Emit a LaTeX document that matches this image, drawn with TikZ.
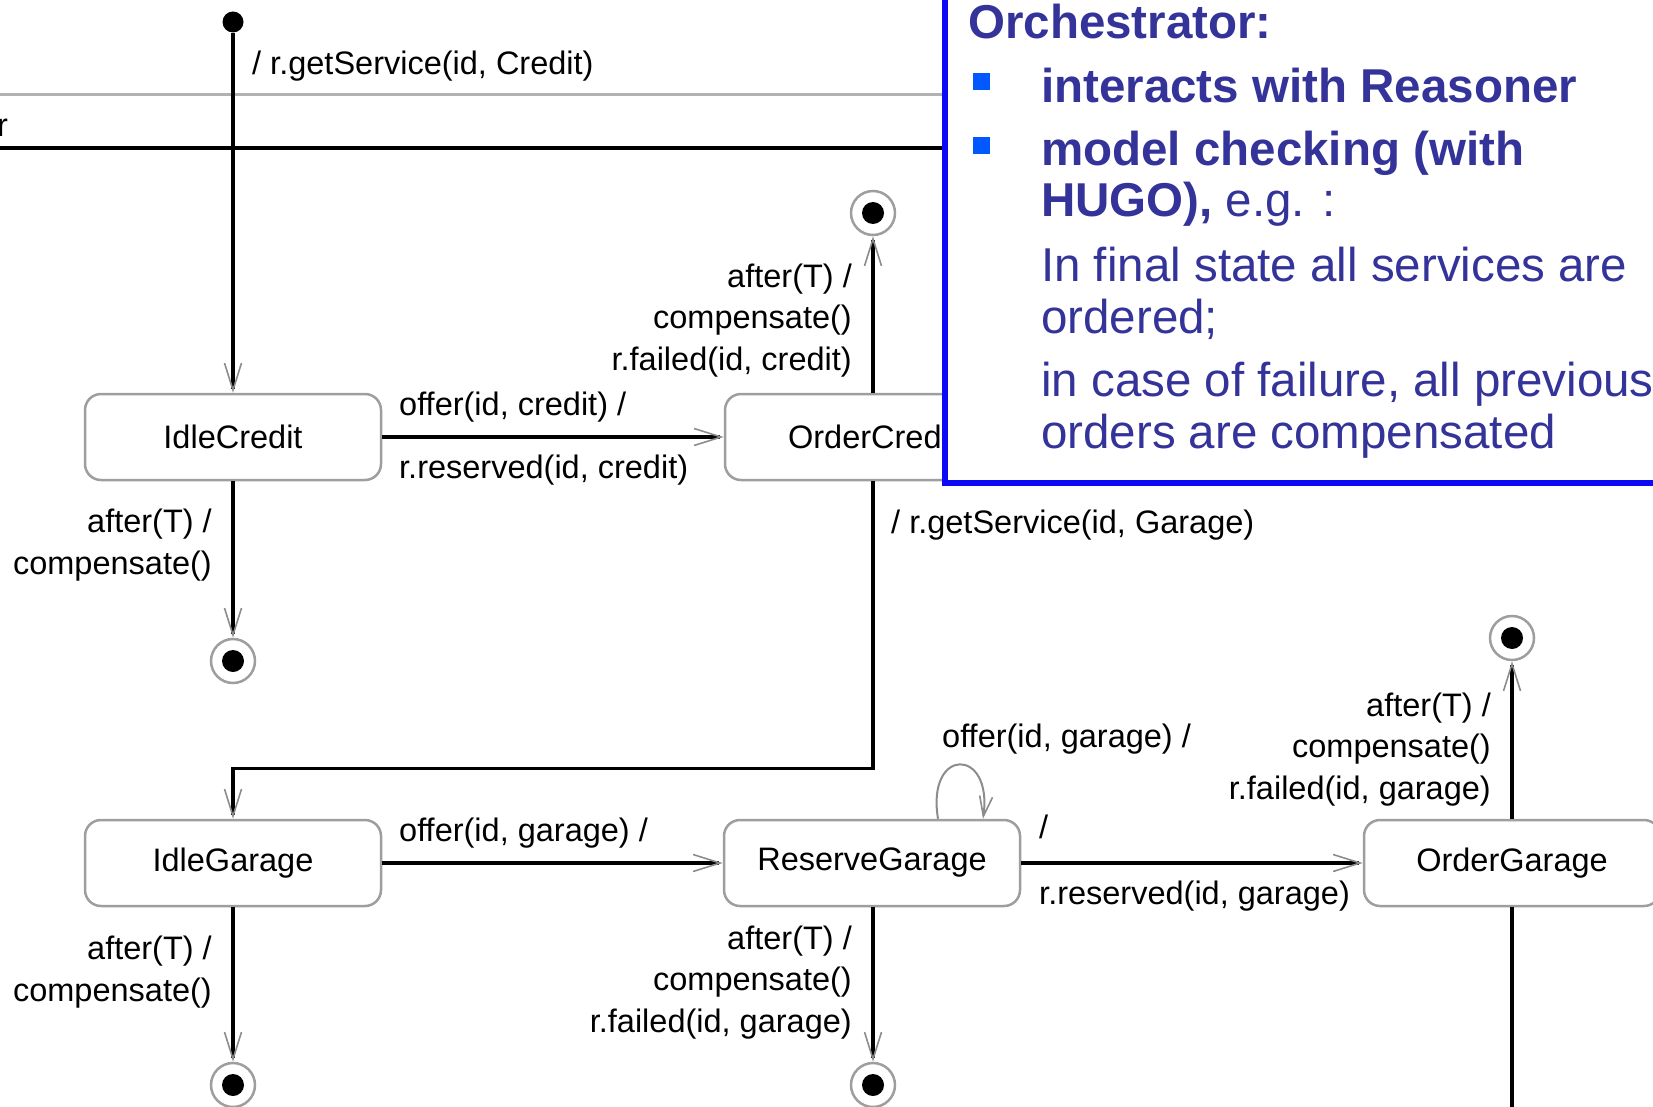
\documentclass[tikz,border=0pt]{standalone}
\usepackage{fontspec}
\setmainfont{Liberation Sans}
\usetikzlibrary{arrows.meta,calc}

\definecolor{stateedge}{gray}{0.62}
\definecolor{barb}{gray}{0.55}
\definecolor{sepgray}{gray}{0.70}
\definecolor{noteblue}{rgb}{0.04,0.04,0.96}
\definecolor{notetext}{rgb}{0.2,0.2,0.6}
\definecolor{bulletblue}{rgb}{0,0.35,1}

\newcommand\dfont{\fontsize{32.5pt}{41.5pt}\selectfont}
\newcommand\nfont{\fontsize{47.5pt}{51.5pt}\selectfont}

\begin{document}
\begin{tikzpicture}[x=1pt,y=-1pt,
  stbox/.style={draw=stateedge,line width=2.5pt,rounded corners=16pt,
    minimum width=296pt,minimum height=86pt,inner sep=0pt,font=\dfont,fill=white},
  initdot/.style={circle,fill=black,minimum size=21pt,inner sep=0pt},
  finalst/.style={circle,draw=stateedge,line width=2.5pt,minimum size=44pt,inner sep=0pt,
    path picture={\fill[black] (path picture bounding box.center) circle (11pt);}},
  conn/.style={line width=3.5pt,black},
  arr/.style={conn,-{Straight Barb[length=27pt,width=17pt,line width=1.6pt,color=barb]}},
  selfloop/.style={line width=2pt,draw=barb,-{Straight Barb[length=20pt,width=13pt,line width=1.6pt,color=barb]}},
  lbl/.style={font=\dfont,inner sep=0pt,text=black},
  lblL/.style={lbl,anchor=base west},
  % multi-line labels: the base anchor sits on the last line
  lblR/.style={lbl,anchor=base east,align=right},
  notetxt/.style={font=\nfont,inner sep=0pt,text=notetext,anchor=base west,align=left},
  bullet/.style={fill=bulletblue,minimum size=17pt,inner sep=0pt}
]
\useasboundingbox (0,0) rectangle (1653,1107);

% region separators at the top
\coordinate (sepA) at (0,95);   \coordinate (sepAend) at (950,95);
\coordinate (sepB) at (0,148);  \coordinate (sepBend) at (950,148);
\draw[sepgray,line width=3pt] (sepA) -- (sepAend);
\draw[conn,line width=4pt] (sepB) -- (sepBend);
\node[lbl,anchor=base west] (regname) at (-3,137) {r};

% states
\node[initdot] (init) at (233,22) {};
\node[stbox] (ic) at (233,437) {IdleCredit};
\node[stbox] (oc) at (873,437) {OrderCredit};
\node[stbox] (ig) at (233,863) {IdleGarage};
\node[stbox] (rg) at (872,863) {ReserveGarage};
\node[stbox] (og) at (1512,863) {OrderGarage};

\node[finalst] (fOC) at (873,213) {};
\node[finalst] (fIC) at (233,661) {};
\node[finalst] (fOG) at (1512,638) {};
\node[finalst] (fIG) at (233,1085) {};
\node[finalst] (fRG) at (873,1085) {};
\coordinate (ogExit) at (1512,1120);

% transitions
\draw[arr] (init) -- (ic);
\draw[arr] (ic) -- (oc);
\draw[arr] (oc) -- (fOC);
\draw[arr] (ic) -- (fIC);
\draw[arr] (oc.south) -- ++(0,287) -| (ig.north);
\draw[arr] (ig) -- (rg);
\draw[arr] (rg) -- (og);
\draw[arr] (og) -- (fOG);
\draw[arr] (ig) -- (fIG);
\draw[arr] (rg.south -| fRG) -- (fRG);
\draw[conn] (og) -- (ogExit);
\draw[selfloop] ($(rg.north)+(66,0)$) .. controls +(-12,-72) and +(10,-72) .. ($(rg.north)+(111,0)$);

% transition labels
\node[lblL] (lGetC) at (252,75) {/ r.getService(id, Credit)};
\node[lblL] (lOffC) at (399,415) {offer(id, credit) /};
\node[lblL] (lResC) at (399,478) {r.reserved(id, credit)};
\node[lblR] (lOCfail) at (852,370) {after(T) /\\compensate()\\r.failed(id, credit)};
\node[lblR] (lICto) at (212,574) {after(T) /\\compensate()};
\node[lblL] (lGetG) at (891,533) {/ r.getService(id, Garage)};
\node[lblL] (lOffG) at (399,841) {offer(id, garage) /};
\node[lblL] (lLoop) at (942,747) {offer(id, garage) /};
\node[lblL] (lSlash) at (1039,838) {/};
\node[lblL] (lResG) at (1039,904) {r.reserved(id, garage)};
\node[lblR] (lOGfail) at (1491,799) {after(T) /\\compensate()\\r.failed(id, garage)};
\node[lblR] (lIGto) at (212,1001) {after(T) /\\compensate()};
\node[lblR] (lRGfail) at (852,1032) {after(T) /\\compensate()\\r.failed(id, garage)};

% note panel
\draw[noteblue,line width=6pt,fill=white] (945,-20) rectangle (1680,483);
\node[notetxt] (nTitle) at (968,39) {\textbf{Orchestrator:}};
\node[bullet] (b1) at (981.5,81.5) {};
\node[bullet] (b2) at (981.5,145.5) {};
\node[notetxt] (nItem1) at (1041,103) {\textbf{interacts with Reasoner}};
\node[notetxt] (nItem2) at (1041,217) {\textbf{model checking (with}\\\textbf{HUGO),} e.g. :};
\node[notetxt] (nPar1) at (1041,333) {In final state all services are\\ordered;};
\node[notetxt] (nPar2) at (1041,448) {in case of failure, all previous\\orders are compensated};
\end{tikzpicture}
\end{document}
